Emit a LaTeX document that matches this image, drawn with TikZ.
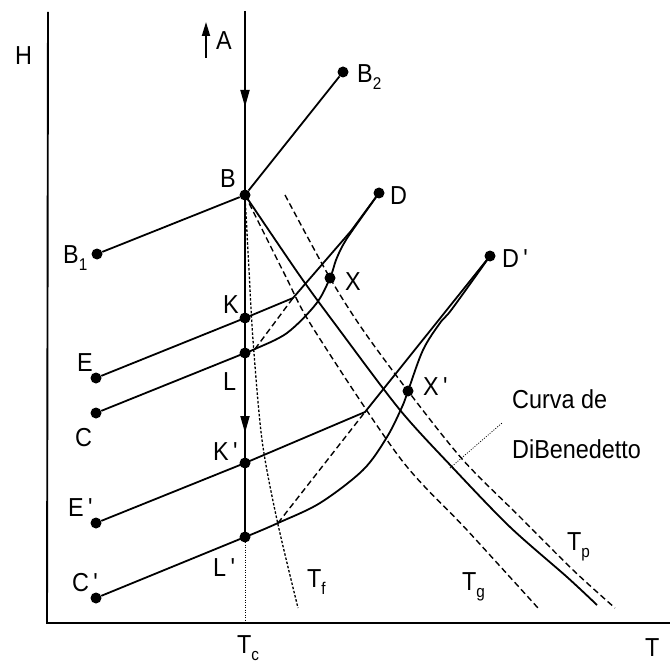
\documentclass[tikz,border=0pt]{standalone}
\usepackage{fontspec}
\setmainfont[FakeStretch=0.9]{Liberation Sans}
\usetikzlibrary{arrows.meta,decorations.markings}
\newcommand\lowsub[1]{\raisebox{-7pt}{\fontsize{17pt}{17pt}\selectfont #1}}
\newcommand\prm{\,\textquotesingle}
\begin{document}
\begin{tikzpicture}[x=1pt,y=-1pt,
  font=\fontsize{26pt}{26pt}\selectfont,
  dot/.style={circle,fill=black,inner sep=0pt,minimum size=11pt},
  lbl/.style={inner sep=0pt,anchor=base west},
  solidline/.style={line width=1.8pt},
  axisline/.style={line width=1.9pt},
  dashline/.style={line width=1.4pt,dash pattern=on 6pt off 3.5pt},
  fineline/.style={line width=1.3pt,dash pattern=on 2.5pt off 1.8pt},
  dotline/.style={line width=0.8pt,dash pattern=on 1pt off 1.5pt},
  arrowmid/.style={postaction={decorate},decoration={markings,mark=at position #1 with {\arrow{Triangle[length=17pt,width=9pt]}}}}
]
\useasboundingbox (0,0) rectangle (670,666);

% axes
\coordinate (ytop) at (48,12);
\coordinate (origin) at (47,623);
\coordinate (xend) at (670,623);
\draw[axisline] (ytop) -- (origin) -- (xend);

% main points
\node[dot] (B) at (245,195) {};
\node[dot] (B2) at (343,72) {};
\node[dot] (B1) at (97,254) {};
\node[dot] (D) at (379,193) {};
\node[dot] (Dp) at (490,256) {};
\node[dot] (X) at (330,278) {};
\node[dot] (Xp) at (408,391) {};
\node[dot] (K) at (245,318) {};
\node[dot] (L) at (245,353) {};
\node[dot] (Kp) at (245,463) {};
\node[dot] (Lp) at (245,537) {};
\node[dot] (E) at (96,378) {};
\node[dot] (C) at (96,413) {};
\node[dot] (Ep) at (96,523) {};
\node[dot] (Cp) at (96,598) {};

% vertical Tc line
\coordinate (vtop) at (245,11);
\coordinate (Tcaxis) at (245,623);
\draw[solidline,arrowmid=96pt] (vtop) -- (B.center);
\draw[solidline] (B.center) -- (K.center) -- (L.center);
\draw[solidline,arrowmid=80pt] (L.center) -- (Kp.center);
\draw[solidline] (Kp.center) -- (Lp.center);
\draw[dotline] (Lp.center) -- (Tcaxis);

% small arrow A
\coordinate (aup0) at (206,58);
\coordinate (aup1) at (206,22);
\draw[line width=1.8pt,-{Triangle[length=14pt,width=8pt]}] (aup0) -- (aup1);

% B lines
\draw[solidline] (B1) -- (B);
\draw[solidline] (B) -- (B2);

% K line to D
\coordinate (kk) at (293,298);
\coordinate (km) at (351,231);
\draw[solidline] (E) -- (K.center) -- (kk) -- (km) -- (D);

% L curve to D
\coordinate (lf) at (255,349);
\draw[solidline] (C) -- (L.center);
\draw[solidline] plot[smooth,tension=0.55] coordinates {(L.center) (lf) (287,333) (316,304) (X.center) (336,260) (343,245) (352,231) (D.center)};
\draw[dashline] (lf) -- (kk);

% K' line to D'
\coordinate (kpk) at (365,412);
\draw[solidline] (Ep) -- (Kp.center) -- (kpk) -- (Dp);

% L' curve to D'
\coordinate (lpf) at (278,523);
\draw[solidline] (Cp) -- (Lp.center);
\draw[solidline] plot[smooth,tension=0.55] coordinates {(Lp.center) (255,533) (lpf) (320,503) (363,470) (387,437) (402,407) (Xp.center) (423,350) (440,323) (452,309) (Dp.center)};
\draw[dashline] (lpf) -- (kpk);

% Tf curve
\draw[fineline] plot[smooth] coordinates {(B.center) (249,270) (253,340) (262,440) (277,520) (298,608)};
% Tg curve
\draw[dashline] plot[smooth] coordinates {(B.center) (285,275) (313,328) (400,458) (467,530) (538,608)};
% DiBenedetto curve
\draw[solidline] plot[smooth] coordinates {(B.center) (300,276) (338,328) (400,410) (453,468) (510,527) (567,577) (597,605)};
% Tp curve
\coordinate (tp0) at (285,195);
\draw[dashline] plot[smooth] coordinates {(tp0) (X.center) (363,330) (Xp.center) (463,460) (520,517) (573,570) (615,608)};

% pointer
\coordinate (pt0) at (450,468);
\coordinate (pt1) at (502,423);
\draw[dotline] (pt0) -- (pt1);

% labels
\node[lbl] (lH) at (15,65) {H};
\node[lbl] (lA) at (216,50) {A};
\node[lbl] (lB) at (220,188) {B};
\node[lbl] (lB1) at (63,263) {B\lowsub{1}};
\node[lbl] (lB2) at (357,83) {B\lowsub{2}};
\node[lbl] (lD) at (390,205) {D};
\node[lbl] (lDp) at (502,267) {D\prm};
\node[lbl] (lX) at (345,290) {X};
\node[lbl] (lXp) at (423,395) {X\prm};
\node[lbl] (lK) at (223,313) {K};
\node[lbl] (lL) at (223,390) {L};
\node[lbl] (lKp) at (213,460) {K\prm};
\node[lbl] (lLp) at (213,576) {L\prm};
\node[lbl] (lE) at (77,371) {E};
\node[lbl] (lC) at (75,446) {C};
\node[lbl] (lEp) at (68,516) {E\prm};
\node[lbl] (lCp) at (72,591) {C\prm};
\node[lbl] (lTc) at (237,653) {T\lowsub{c}};
\node[lbl] (lTf) at (307,587) {T\lowsub{f}};
\node[lbl] (lTg) at (462,590) {T\lowsub{g}};
\node[lbl] (lTp) at (567,550) {T\lowsub{p}};
\node[lbl] (lT) at (645,656) {T};
\node[lbl] (lcurva) at (512,408) {Curva de};
\node[lbl] (ldib) at (512,458) {DiBenedetto};
\end{tikzpicture}
\end{document}
